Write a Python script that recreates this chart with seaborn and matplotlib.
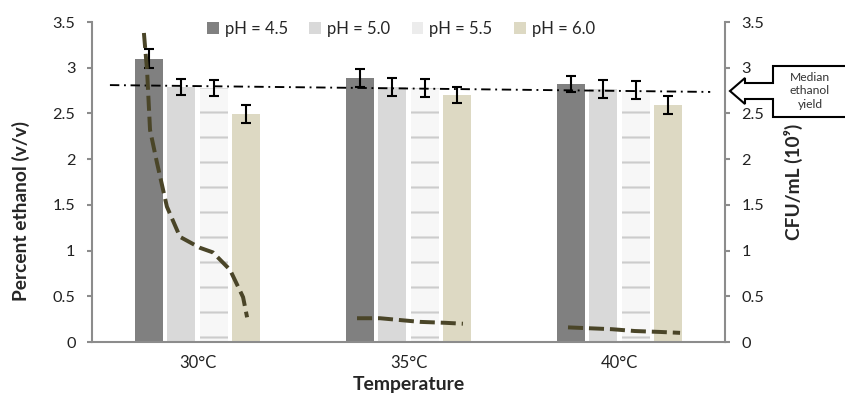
import numpy as np
import pandas as pd
import seaborn as sns
import matplotlib.pyplot as plt
from matplotlib.patches import Patch, Polygon
from matplotlib.ticker import FuncFormatter

# data
temps = ['30°C', '35°C', '40°C']
ph_levels = ['pH = 4.5', 'pH = 5.0', 'pH = 5.5', 'pH = 6.0']

ethanol_45 = [3.10, 2.89, 2.82]
ethanol_50 = [2.79, 2.79, 2.77]
ethanol_55 = [2.78, 2.78, 2.76]
ethanol_60 = [2.49, 2.70, 2.59]

err_45 = [0.10, 0.10, 0.09]
err_50 = [0.09, 0.10, 0.10]
err_55 = [0.09, 0.10, 0.10]
err_60 = [0.10, 0.09, 0.10]

# CFU/mL (10^9) dashed curve, x given as offset from the temperature category
cfu_x_30 = [-0.254, -0.239, -0.225, -0.192, -0.145, -0.083, 0.012, 0.073, 0.154, 0.216, 0.235]
cfu_y_30 = [3.38, 2.97, 2.32, 1.96, 1.48, 1.15, 1.03, 0.98, 0.79, 0.49, 0.27]
cfu_x_35 = [-0.244, -0.135, -0.040, 0.055, 0.173, 0.258]
cfu_y_35 = [0.26, 0.26, 0.24, 0.22, 0.21, 0.20]
cfu_x_40 = [-0.244, -0.140, -0.036, 0.073, 0.192, 0.287]
cfu_y_40 = [0.16, 0.15, 0.14, 0.12, 0.11, 0.10]

# median ethanol yield line
median_x = [-0.415, 2.43]
median_y = [2.81, 2.735]

bar_colors = ['#808080', '#d9d9d9', '#f7f7f7', '#ddd9c3']
grey = '#8c8c8c'

rows = []
for ph, vals, errs in zip(ph_levels, [ethanol_45, ethanol_50, ethanol_55, ethanol_60],
                          [err_45, err_50, err_55, err_60]):
    for t, v, e in zip(temps, vals, errs):
        rows.append((t, ph, v, e))
df = pd.DataFrame(rows, columns=['temp', 'ph', 'ethanol', 'err'])

sns.set_style('white')
plt.rcParams['font.family'] = ['Lato', 'DejaVu Sans']
plt.rcParams['hatch.linewidth'] = 1.0

fig = plt.figure(figsize=(845 / 150, 394 / 150), dpi=150)
ax = fig.add_axes([92 / 845, 52 / 394, 633 / 845, 320 / 394])

sns.barplot(data=df, x='temp', y='ethanol', hue='ph', order=temps, hue_order=ph_levels,
            palette=bar_colors, saturation=1, width=0.616, gap=0.13, errorbar=None,
            linewidth=0, legend=False, ax=ax)

# pH 5.5 bars: pale with light grey stripes
for p in ax.containers[2]:
    p.set_hatch('-')
    p.set_edgecolor('#cccccc')
    p.set_linewidth(0)

# error bars at the bar centres
for cont, ph in zip(ax.containers, ph_levels):
    sub = df[df['ph'] == ph]
    xs = [p.get_x() + p.get_width() / 2 for p in cont]
    ax.errorbar(xs, sub['ethanol'], yerr=sub['err'], fmt='none', ecolor='black',
                elinewidth=1.0, capsize=2.4, capthick=1.0, zorder=5)

ax.plot(median_x, median_y, color='black', lw=0.9, dashes=(5, 2.5, 1, 2.5), zorder=6)

ax.set_xlim(-0.5, 2.5)
ax.set_ylim(0, 3.5)
ax.set_yticks(np.arange(0, 3.51, 0.5))
ax.yaxis.set_major_formatter(FuncFormatter(lambda v, p: '%g' % v))
ax.tick_params(axis='y', length=2.4, width=1, color=grey, pad=5.5, labelsize=7.8, labelcolor='#222222')
ax.tick_params(axis='x', which='major', length=0, pad=6.0, labelsize=8, labelcolor='#222222')
ax.set_xticks([0.5, 1.5], minor=True)
ax.tick_params(axis='x', which='minor', length=2, width=1, color=grey)

ax.set_xlabel('Temperature', fontsize=9.3, fontweight='bold')
ax.xaxis.set_label_coords(0.5, -0.105)
ax.set_ylabel('Percent ethanol (v/v)', fontsize=9.2, fontweight='bold')
ax.yaxis.set_label_coords(-0.098, 0.41)

for s in ['left', 'bottom']:
    ax.spines[s].set_color(grey)
    ax.spines[s].set_linewidth(1.0)
ax.spines['top'].set_visible(False)
ax.spines['right'].set_visible(False)

handles = [Patch(facecolor=c, edgecolor='none') for c in ['#808080', '#d9d9d9', '#ececec', '#ddd9c3']]
ax.legend(handles, ph_levels, loc='center', bbox_to_anchor=(0.488, 0.978), ncol=4, frameon=False,
          fontsize=8, handlelength=0.7, handleheight=0.7, handletextpad=0.35, columnspacing=1.3)

# secondary axis: CFU/mL
ax2 = ax.twinx()
for i, (cx, cy) in enumerate([(cfu_x_30, cfu_y_30), (cfu_x_35, cfu_y_35), (cfu_x_40, cfu_y_40)]):
    ax2.plot([i + v for v in cx], cy, color='#4a4528', lw=1.9, dashes=(3.8, 1.5),
             solid_capstyle='butt', dash_capstyle='butt')
ax2.set_ylim(0, 3.5)
ax2.set_yticks(np.arange(0, 3.51, 0.5))
ax2.yaxis.set_major_formatter(FuncFormatter(lambda v, p: '%g' % v))
ax2.tick_params(axis='y', length=2.4, width=1, color=grey, pad=5.5, labelsize=7.8, labelcolor='#222222')
ax2.set_ylabel('CFU/mL (10⁹)', fontsize=9.2, fontweight='bold')
ax2.yaxis.set_label_coords(1.093, 0.5)
for s in ['left', 'bottom', 'top']:
    ax2.spines[s].set_visible(False)
ax2.spines['right'].set_color(grey)
ax2.spines['right'].set_linewidth(1.0)

# "Median ethanol yield" callout arrow
pts = [(860, 66), (773, 66), (773, 83), (745, 83), (745, 78), (730, 91), (745, 104),
       (745, 99), (773, 99), (773, 117), (860, 117)]
fig.add_artist(Polygon([(x / 845, 1 - y / 394) for x, y in pts], closed=False, fill=False,
                       ec='black', lw=1.0, transform=fig.transFigure))
fig.text(810 / 845, 1 - 91 / 394, 'Median\nethanol\nyield', ha='center', va='center',
         fontsize=5.8, linespacing=1.25, color='#333333')

plt.savefig('out.png', dpi=150)
